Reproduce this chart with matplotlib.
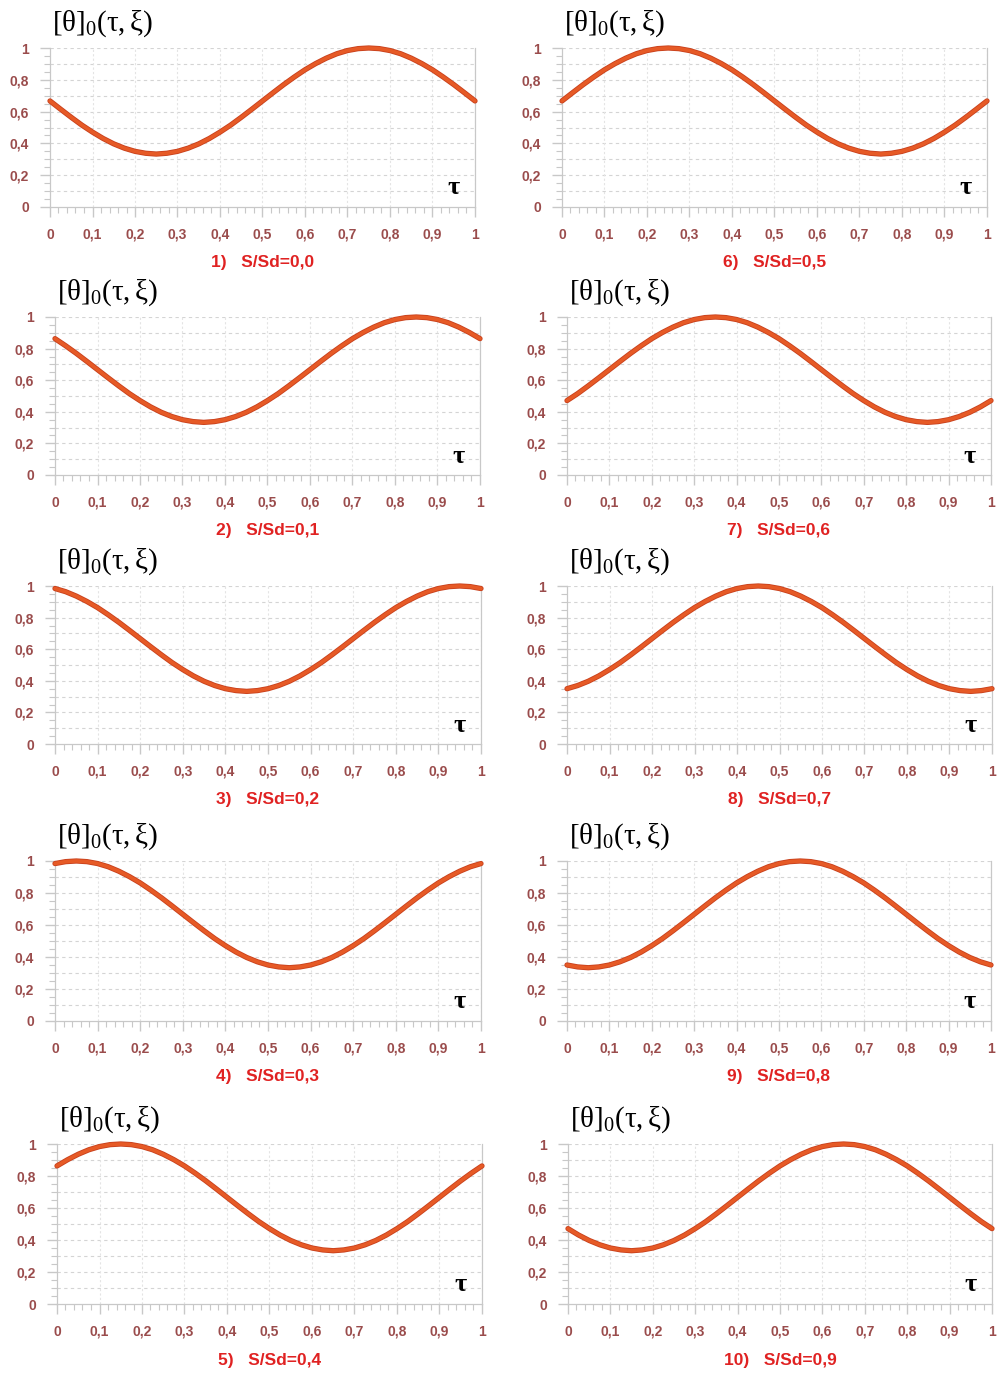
import numpy as np
import matplotlib
matplotlib.use("Agg")
import matplotlib.pyplot as plt
import matplotlib.patheffects as pe
from matplotlib.ticker import MultipleLocator, FixedLocator, FixedFormatter

# tau samples every 0.025
tau = [0.0, 0.025, 0.05, 0.075, 0.1, 0.125, 0.15, 0.175, 0.2, 0.225,
       0.25, 0.275, 0.3, 0.325, 0.35, 0.375, 0.4, 0.425, 0.45, 0.475,
       0.5, 0.525, 0.55, 0.575, 0.6, 0.625, 0.65, 0.675, 0.7, 0.725,
       0.75, 0.775, 0.8, 0.825, 0.85, 0.875, 0.9, 0.925, 0.95, 0.975, 1.0]

theta_00 = [0.667, 0.615, 0.564, 0.515, 0.471, 0.431, 0.397, 0.370, 0.350, 0.338, 0.333, 0.338, 0.350, 0.370, 0.397, 0.431, 0.471, 0.515, 0.564, 0.615,
            0.667, 0.719, 0.770, 0.818, 0.863, 0.902, 0.936, 0.964, 0.984, 0.996, 1.000, 0.996, 0.984, 0.964, 0.936, 0.902, 0.863, 0.818, 0.770, 0.719, 0.667]
theta_01 = [0.863, 0.818, 0.770, 0.719, 0.667, 0.615, 0.564, 0.515, 0.471, 0.431, 0.397, 0.370, 0.350, 0.338, 0.333, 0.338, 0.350, 0.370, 0.397, 0.431,
            0.471, 0.515, 0.564, 0.615, 0.667, 0.719, 0.770, 0.818, 0.863, 0.902, 0.936, 0.964, 0.984, 0.996, 1.000, 0.996, 0.984, 0.964, 0.936, 0.902, 0.863]
theta_02 = [0.984, 0.964, 0.936, 0.902, 0.863, 0.818, 0.770, 0.719, 0.667, 0.615, 0.564, 0.515, 0.471, 0.431, 0.397, 0.370, 0.350, 0.338, 0.333, 0.338,
            0.350, 0.370, 0.397, 0.431, 0.471, 0.515, 0.564, 0.615, 0.667, 0.719, 0.770, 0.818, 0.863, 0.902, 0.936, 0.964, 0.984, 0.996, 1.000, 0.996, 0.984]
theta_03 = [0.984, 0.996, 1.000, 0.996, 0.984, 0.964, 0.936, 0.902, 0.863, 0.818, 0.770, 0.719, 0.667, 0.615, 0.564, 0.515, 0.471, 0.431, 0.397, 0.370,
            0.350, 0.338, 0.333, 0.338, 0.350, 0.370, 0.397, 0.431, 0.471, 0.515, 0.564, 0.615, 0.667, 0.719, 0.770, 0.818, 0.863, 0.902, 0.936, 0.964, 0.984]
theta_04 = [0.863, 0.902, 0.936, 0.964, 0.984, 0.996, 1.000, 0.996, 0.984, 0.964, 0.936, 0.902, 0.863, 0.818, 0.770, 0.719, 0.667, 0.615, 0.564, 0.515,
            0.471, 0.431, 0.397, 0.370, 0.350, 0.338, 0.333, 0.338, 0.350, 0.370, 0.397, 0.431, 0.471, 0.515, 0.564, 0.615, 0.667, 0.719, 0.770, 0.818, 0.863]
theta_05 = [0.667, 0.719, 0.770, 0.818, 0.863, 0.902, 0.936, 0.964, 0.984, 0.996, 1.000, 0.996, 0.984, 0.964, 0.936, 0.902, 0.863, 0.818, 0.770, 0.719,
            0.667, 0.615, 0.564, 0.515, 0.471, 0.431, 0.397, 0.370, 0.350, 0.338, 0.333, 0.338, 0.350, 0.370, 0.397, 0.431, 0.471, 0.515, 0.564, 0.615, 0.667]
theta_06 = [0.471, 0.515, 0.564, 0.615, 0.667, 0.719, 0.770, 0.818, 0.863, 0.902, 0.936, 0.964, 0.984, 0.996, 1.000, 0.996, 0.984, 0.964, 0.936, 0.902,
            0.863, 0.818, 0.770, 0.719, 0.667, 0.615, 0.564, 0.515, 0.471, 0.431, 0.397, 0.370, 0.350, 0.338, 0.333, 0.338, 0.350, 0.370, 0.397, 0.431, 0.471]
theta_07 = [0.350, 0.370, 0.397, 0.431, 0.471, 0.515, 0.564, 0.615, 0.667, 0.719, 0.770, 0.818, 0.863, 0.902, 0.936, 0.964, 0.984, 0.996, 1.000, 0.996,
            0.984, 0.964, 0.936, 0.902, 0.863, 0.818, 0.770, 0.719, 0.667, 0.615, 0.564, 0.515, 0.471, 0.431, 0.397, 0.370, 0.350, 0.338, 0.333, 0.338, 0.350]
theta_08 = [0.350, 0.338, 0.333, 0.338, 0.350, 0.370, 0.397, 0.431, 0.471, 0.515, 0.564, 0.615, 0.667, 0.719, 0.770, 0.818, 0.863, 0.902, 0.936, 0.964,
            0.984, 0.996, 1.000, 0.996, 0.984, 0.964, 0.936, 0.902, 0.863, 0.818, 0.770, 0.719, 0.667, 0.615, 0.564, 0.515, 0.471, 0.431, 0.397, 0.370, 0.350]
theta_09 = [0.471, 0.431, 0.397, 0.370, 0.350, 0.338, 0.333, 0.338, 0.350, 0.370, 0.397, 0.431, 0.471, 0.515, 0.564, 0.615, 0.667, 0.719, 0.770, 0.818,
            0.863, 0.902, 0.936, 0.964, 0.984, 0.996, 1.000, 0.996, 0.984, 0.964, 0.936, 0.902, 0.863, 0.818, 0.770, 0.719, 0.667, 0.615, 0.564, 0.515, 0.471]

series = [theta_00, theta_01, theta_02, theta_03, theta_04,
          theta_05, theta_06, theta_07, theta_08, theta_09]
captions = ["1)   S/Sd=0,0", "2)   S/Sd=0,1", "3)   S/Sd=0,2", "4)   S/Sd=0,3", "5)   S/Sd=0,4",
            "6)   S/Sd=0,5", "7)   S/Sd=0,6", "8)   S/Sd=0,7", "9)   S/Sd=0,8", "10)   S/Sd=0,9"]

xticks = [0, 0.1, 0.2, 0.3, 0.4, 0.5, 0.6, 0.7, 0.8, 0.9, 1.0]
xlabels = ["0", "0,1", "0,2", "0,3", "0,4", "0,5", "0,6", "0,7", "0,8", "0,9", "1"]
yticks = [0, 0.2, 0.4, 0.6, 0.8, 1.0]
ylabels = ["0", "0,2", "0,4", "0,6", "0,8", "1"]

W, H = 1004, 1374
# pixel boxes: (x at tau=0, x at tau=1, y at 1, y at 0)
boxes_left = [(50, 475, 48, 207), (55, 480, 317, 475), (55, 481, 586, 744),
              (55, 481, 861, 1021), (57, 482, 1144, 1304)]
boxes_right = [(562, 987, 48, 207), (567, 991, 317, 475), (567, 992, 586, 744),
               (567, 991, 861, 1021), (568, 992, 1144, 1304)]
boxes = boxes_left + boxes_right

plt.rcParams['mathtext.fontset'] = 'custom'
plt.rcParams['mathtext.rm'] = 'Liberation Serif'
plt.rcParams['mathtext.it'] = 'Liberation Serif'
plt.rcParams['font.family'] = ['Liberation Sans', 'DejaVu Sans']
fig = plt.figure(figsize=(W / 100, H / 100), dpi=100)

tick_col = '#9a4c4c'
line_col = '#e65a26'

for i in range(10):
    x0, x1, yt, yb = boxes[i]
    ax = fig.add_axes([x0 / W, 1 - yb / H, (x1 - x0) / W, (yb - yt) / H])
    ax.plot(tau, series[i], color=line_col, lw=2.6, clip_on=False, zorder=5,
            solid_capstyle='round',
            path_effects=[pe.Stroke(linewidth=3.8, foreground='#c8401c'), pe.Normal()])
    ax.set_xlim(0, 1)
    ax.set_ylim(0, 1)

    ax.xaxis.set_major_locator(FixedLocator(xticks))
    ax.xaxis.set_major_formatter(FixedFormatter(xlabels))
    ax.yaxis.set_major_locator(FixedLocator(yticks))
    ax.yaxis.set_major_formatter(FixedFormatter(ylabels))
    ax.xaxis.set_minor_locator(MultipleLocator(0.02))
    ax.yaxis.set_minor_locator(MultipleLocator(0.05))

    ax.tick_params(axis='both', which='major', colors='#c8c8c8', length=7, width=1.0,
                   labelcolor=tick_col, labelsize=10)
    ax.tick_params(axis='both', which='minor', colors='#c8c8c8', length=4, width=0.8)
    ax.tick_params(axis='x', which='major', pad=8)
    ax.tick_params(axis='y', which='major', pad=8)
    for lab in ax.get_xticklabels() + ax.get_yticklabels():
        lab.set_fontweight('bold')

    for yv in np.arange(0.1, 1.01, 0.1):
        ax.axhline(yv, color='#d4d4d4', lw=0.8, ls=(0, (3, 3)), zorder=1)
    for xv in xticks[1:]:
        ax.axvline(xv, color='#e4e4e4', lw=0.8, ls=(0, (2, 2)), zorder=1)

    ax.spines['top'].set_visible(False)
    for s in ['left', 'bottom', 'right']:
        ax.spines[s].set_color('#c8c8c8')
        ax.spines[s].set_linewidth(0.9)

    ax.text(0.95, 0.12, 'τ', fontsize=19, color='black', ha='center', va='center',
            fontfamily='Liberation Serif', fontweight='bold')
    fig.text((x0 + 2) / W, 1 - (yt - 24) / H, r'$\mathrm{[θ]_0(τ,ξ)}$', fontsize=21,
             ha='left', va='center')
    fig.text((x0 + x1) / 2 / W, 1 - (yb + 56) / H, captions[i], fontsize=12.5,
             fontweight='bold', color='#e02222', ha='center', va='center')

fig.savefig("out.png", dpi=100)
